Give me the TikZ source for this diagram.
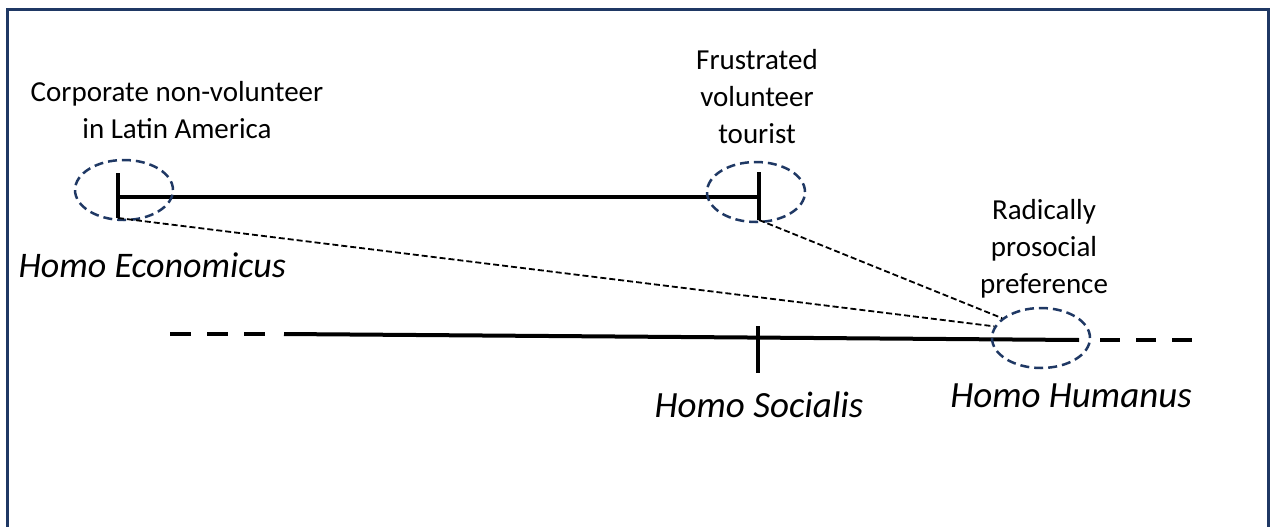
\documentclass[tikz,border=0pt]{standalone}
\usepackage{fontspec}
\setmainfont{Carlito}
\usetikzlibrary{shapes.geometric}
\definecolor{framenavy}{RGB}{31,56,100}

\begin{document}
\begin{tikzpicture}[
  x=1pt, y=-1pt,
  frame/.style={line width=3pt, framenavy},
  scale line/.style={line width=4pt, black},
  tickmark/.style={line width=3.5pt, black},
  ring/.style={ellipse, draw=framenavy, line width=2.5pt, dash pattern=on 9pt off 5pt,
    minimum width=98pt, minimum height=60pt, inner sep=0pt},
  link/.style={line width=1.8pt, dash pattern=on 6pt off 3pt},
  note/.style={font=\fontsize{29}{37}\selectfont, align=center, anchor=base},
  homo/.style={font=\fontsize{37}{44}\selectfont\itshape, anchor=base}
]
  % pixel grid of the reference, y pointing down
  \useasboundingbox (0,0) rectangle (1271,527);
  \draw[frame] (7,530) -- (7,10) -- (1268,10) -- (1268,530);

  % upper scale: the two observed cases
  \coordinate (econ top) at (118,173);
  \coordinate (econ foot) at (118,218);
  \coordinate (tour top) at (759,172);
  \coordinate (tour foot) at (759,220);
  \draw[scale line] (118,197) -- (759,197);
  \draw[tickmark] (econ top) -- (econ foot);
  \draw[tickmark] (tour top) -- (tour foot);

  % lower scale
  \draw[scale line, dash pattern=on 21pt off 16pt] (170,334) -- (266,334);
  \draw[scale line] (284,334) -- (1079,340);
  \draw[scale line, dash pattern=on 20pt off 16pt] (1100,340) -- (1194,340);
  \draw[tickmark] (758,326) -- (758,373);

  % circled points
  \node[ring] (econ ring) at (124,190) {};
  \node[ring] (tour ring) at (756,192) {};
  \node[ring] (hum ring) at (1041,338) {};

  \draw[link] (econ foot) -- (hum ring.166);
  \draw[link] (tour foot) -- (hum ring.153);

  % texts (base = last line)
  \node[note] (econ note) at (177,138) {Corporate non-volunteer\\in Latin America};
  \node[note] (tour note) at (757,143) {Frustrated\\volunteer\\tourist};
  \node[note] (hum note) at (1044,293) {Radically\\prosocial\\preference};
  \node[homo, font=\fontsize{36}{43}\selectfont\itshape, anchor=base west]
    (econ name) at (15,277) {Homo Economicus};
  \node[homo] (soc name) at (759,417) {Homo Socialis};
  \node[homo] (hum name) at (1071,407) {Homo Humanus};
\end{tikzpicture}
\end{document}
